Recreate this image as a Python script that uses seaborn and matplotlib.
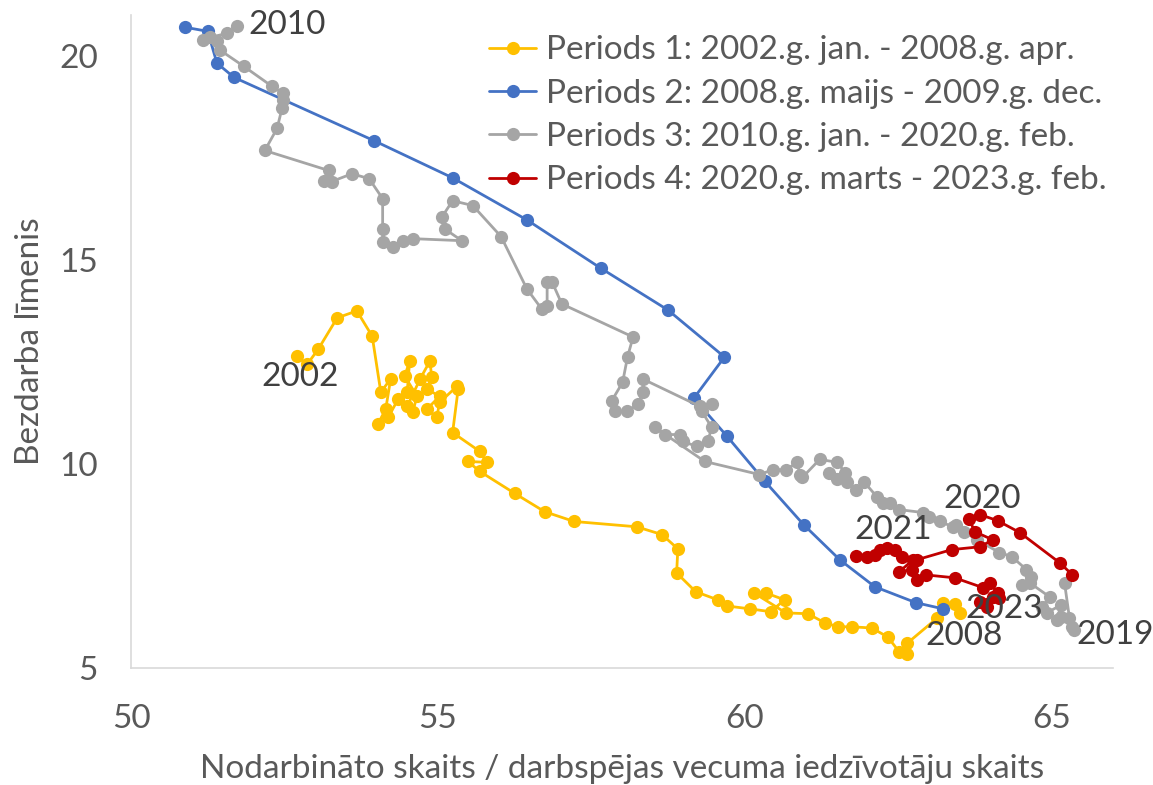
import pandas as pd
import matplotlib
matplotlib.use("Agg")
import matplotlib.pyplot as plt
import seaborn as sns

# Period 1: 2002 jan - 2008 apr
p1_x = [52.70, 52.87, 53.05, 53.36, 53.68, 53.93, 54.07, 54.23, 54.15, 54.02, 54.19, 54.35,
        54.50, 54.54, 54.46, 54.66, 54.59, 54.50, 54.71, 54.87, 54.90, 54.82, 55.03, 54.82,
        54.98, 55.03, 55.31, 55.33, 55.24, 55.68, 55.80, 55.49, 55.68, 56.25, 56.74, 57.22,
        58.24, 58.65, 58.91, 58.89, 59.20, 59.56, 59.71, 60.08, 60.42, 60.65, 60.34, 60.15,
        60.67, 61.03, 61.30, 61.52, 61.74, 62.07, 62.33, 62.52, 62.64, 62.65, 63.14, 63.23,
        63.42, 63.50]
p1_y = [12.64, 12.44, 12.81, 13.58, 13.75, 13.13, 11.76, 12.08, 11.34, 10.97, 11.14, 11.58,
        11.76, 12.52, 12.15, 11.66, 11.27, 11.41, 12.08, 12.52, 12.13, 11.83, 11.66, 11.34,
        11.14, 11.51, 11.90, 11.83, 10.77, 10.31, 10.04, 10.06, 9.82, 9.28, 8.83, 8.59,
        8.46, 8.27, 7.92, 7.33, 6.87, 6.67, 6.52, 6.45, 6.38, 6.67, 6.84, 6.84,
        6.35, 6.33, 6.11, 6.01, 6.01, 5.98, 5.76, 5.39, 5.34, 5.61, 6.23, 6.60,
        6.57, 6.35]

# Period 2: 2008 maijs - 2009 dec
p2_x = [63.23, 62.79, 62.12, 61.55, 60.96, 60.33, 59.71, 59.17, 59.67, 58.75, 57.65, 56.45,
        55.24, 53.96, 51.68, 51.40, 51.25, 50.88]
p2_y = [6.45, 6.60, 6.99, 7.65, 8.51, 9.57, 10.68, 11.61, 12.62, 13.77, 14.80, 15.98,
        17.01, 17.92, 19.47, 19.82, 20.60, 20.70]

# Period 3: 2010 jan - 2020 feb
p3_x = [51.73, 51.56, 51.29, 51.17, 51.40, 51.45, 51.84, 52.30, 52.48, 52.48, 52.46, 52.38,
        52.18, 53.22, 53.14, 53.27, 53.60, 53.88, 54.10, 54.10, 54.10, 54.27, 54.43, 54.59,
        55.39, 55.11, 55.07, 55.24, 55.57, 56.03, 56.45, 56.69, 56.78, 56.78, 56.86, 57.02,
        58.18, 58.09, 58.01, 57.83, 57.88, 58.08, 58.26, 58.34, 58.34, 59.27, 59.46, 59.30,
        59.46, 59.40, 59.22, 58.99, 58.94, 58.70, 58.53, 59.35, 60.24, 60.46, 60.68, 60.85,
        60.90, 60.94, 61.22, 61.51, 61.63, 61.66, 61.38, 61.50, 61.82, 61.95, 62.15, 62.25,
        62.36, 62.52, 62.90, 63.01, 63.18, 63.39, 63.45, 63.58, 63.78, 64.15, 64.35, 64.59,
        64.67, 64.51, 64.64, 64.97, 64.84, 64.92, 65.16, 65.08, 65.16, 65.33, 65.37, 65.29,
        65.21]
p3_y = [20.72, 20.55, 20.45, 20.38, 20.36, 20.14, 19.74, 19.25, 19.08, 18.91, 18.71, 18.22,
        17.68, 17.19, 16.94, 16.92, 17.11, 16.99, 16.50, 15.76, 15.44, 15.32, 15.47, 15.52,
        15.47, 15.76, 16.06, 16.45, 16.33, 15.57, 14.29, 13.80, 13.87, 14.46, 14.46, 13.92,
        13.11, 12.62, 12.00, 11.54, 11.29, 11.29, 11.46, 11.76, 12.08, 11.41, 11.46, 11.29,
        10.90, 10.55, 10.43, 10.55, 10.72, 10.72, 10.90, 10.06, 9.74, 9.86, 9.86, 10.04,
        9.74, 9.67, 10.11, 10.04, 9.79, 9.55, 9.79, 9.62, 9.37, 9.55, 9.20, 9.05,
        9.05, 8.88, 8.81, 8.71, 8.59, 8.46, 8.51, 8.34, 8.14, 7.83, 7.73, 7.41,
        7.24, 7.04, 7.09, 6.74, 6.50, 6.35, 6.55, 6.18, 6.25, 6.01, 5.93, 6.23,
        7.09]

# Period 4: 2020 marts - 2023 feb
p4_x = [65.34, 65.13, 64.48, 64.12, 63.83, 63.65, 63.75, 64.04, 63.83, 63.37, 62.80, 62.56,
        62.31, 62.20, 62.12, 61.82, 61.99, 62.44, 62.74, 62.52, 62.72, 62.80, 62.96, 63.42,
        63.88, 63.99, 64.12, 64.04, 63.83, 64.15, 63.94]
p4_y = [7.28, 7.58, 8.32, 8.61, 8.76, 8.66, 8.34, 8.14, 7.97, 7.90, 7.65, 7.73,
        7.95, 7.90, 7.78, 7.75, 7.73, 7.90, 7.65, 7.36, 7.41, 7.16, 7.28, 7.21,
        6.97, 7.09, 6.84, 6.74, 6.62, 6.72, 6.50]

periods = ["Periods 1: 2002.g. jan. - 2008.g. apr.",
           "Periods 2: 2008.g. maijs - 2009.g. dec.",
           "Periods 3: 2010.g. jan. - 2020.g. feb.",
           "Periods 4: 2020.g. marts - 2023.g. feb."]
colors = ["#FFC000", "#4472C4", "#A5A5A5", "#C00000"]

year_labels = ["2010", "2002", "2008", "2023", "2019", "2020", "2021"]
year_x = [51.91, 52.12, 62.95, 63.60, 65.41, 63.24, 61.79]
year_y = [20.75, 12.13, 5.78, 6.45, 5.81, 9.13, 8.39]

frames = []
for name, xs, ys in zip(periods, [p1_x, p2_x, p3_x, p4_x], [p1_y, p2_y, p3_y, p4_y]):
    frames.append(pd.DataFrame({"x": xs, "y": ys, "period": name}))
df = pd.concat(frames, ignore_index=True)

sns.set_style("white")
plt.rcParams["font.family"] = ["Lato", "DejaVu Sans"]
txt = "#595959"
fs = 24

fig = plt.figure(figsize=(11.53, 7.85), dpi=100)
ax = fig.add_axes([131 / 1153, 1 - 668 / 785, 982 / 1153, 653 / 785])

sns.lineplot(data=df, x="x", y="y", hue="period", palette=colors, sort=False,
             estimator=None, marker="o", markersize=9.5, markeredgewidth=0,
             linewidth=2.0, ax=ax)

for lab, xv, yv in zip(year_labels, year_x, year_y):
    ax.text(xv, yv, lab, fontsize=fs, color="#404040", va="center", ha="left")

ax.set_xlim(50, 66)
ax.set_ylim(5, 21)
ax.set_xticks([50, 55, 60, 65])
ax.set_yticks([5, 10, 15, 20])
ax.tick_params(axis="x", length=0, pad=26, labelsize=fs, labelcolor=txt)
ax.tick_params(axis="y", length=0, pad=24, labelsize=fs, labelcolor=txt)

for s in ["top", "right"]:
    ax.spines[s].set_visible(False)
for s in ["left", "bottom"]:
    ax.spines[s].set_color("#D9D9D9")
    ax.spines[s].set_linewidth(1.2)

ax.set_xlabel("Nodarbināto skaits / darbspējas vecuma iedzīvotāju skaits",
              fontsize=fs, color=txt, labelpad=14)
ax.set_ylabel("Bezdarba līmenis", fontsize=fs, color=txt, labelpad=10)

handles, labels = ax.get_legend_handles_labels()
ax.legend(handles, labels, loc="upper left", bbox_to_anchor=(476 / 1153, 1 - 22 / 785),
          bbox_transform=fig.transFigure, frameon=False, fontsize=fs,
          labelcolor=txt, handlelength=1.4, handletextpad=0.3, labelspacing=0.4,
          borderaxespad=0)

fig.savefig("out.png", dpi=100)
